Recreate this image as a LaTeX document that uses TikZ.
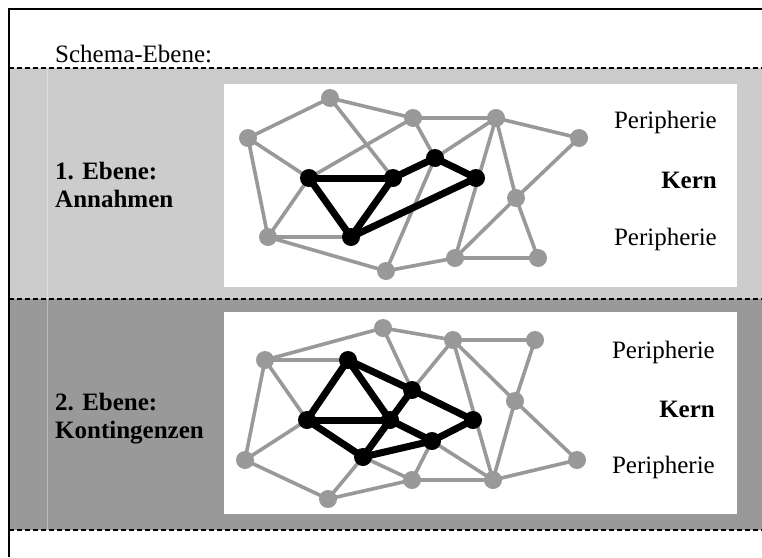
\documentclass[tikz,border=0pt]{standalone}
\usepackage{fontspec}
\setmainfont{Liberation Serif}
\usetikzlibrary{positioning}
\definecolor{bandlight}{gray}{0.8}
\definecolor{banddark}{gray}{0.6}
\definecolor{netgray}{gray}{0.6}

\tikzset{
  pnode/.style={circle,fill=netgray,minimum size=18pt,inner sep=0pt},
  knode/.style={circle,fill=black,minimum size=18pt,inner sep=0pt},
  pedge/.style={netgray,line width=3.6pt},
  kedge/.style={black,line width=7pt},
  sepline/.style={line width=2pt,dash pattern=on 5pt off 3pt},
  lbl/.style={font=\fontsize{25}{28}\selectfont,inner sep=0pt},
  blbl/.style={lbl,font=\fontsize{25}{28}\selectfont\bfseries},
}

\begin{document}
\begin{tikzpicture}[x=1pt,y=-1pt]
\useasboundingbox (0,0) rectangle (762,557);
% ---------- bands
\fill[bandlight] (9,68) rectangle (762,299);
\fill[banddark] (9,299) rectangle (762,530);
\draw[white,opacity=0.35,line width=1pt] (47,69)--(47,530);
\fill[white] (224,84) rectangle (737,287);
\fill[white] (224,312) rectangle (737,514);
\draw[line width=2pt] (8,9)--(762,9);
\draw[line width=1.3pt] (9,8)--(9,557);
\foreach \y in {68,299,530}{
  \draw[sepline] (9,\y)--(762,\y);}
\node[lbl,anchor=base west] (schema) at (55,62){Schema-Ebene:};

% ---------- 1. Ebene
\begin{scope}
\node[blbl,align=left,anchor=base west] (annahmen) at (55,207){1. Ebene:\\Annahmen};
\node[lbl,anchor=base east] (anper1) at (717,128){Peripherie};
\node[blbl,anchor=base east] (ankern) at (717,188){Kern};
\node[lbl,anchor=base east] (anper2) at (717,245){Peripherie};
\foreach \n/\x/\y in {1/248/138,2/330/98,3/413/118,4/496/118,5/579/138,
  6/516/198,7/538/258,8/455/258,9/386/271,10/268/237}{
  \coordinate (ap\n) at (\x,\y);}
\foreach \n/\x/\y in {1/309/178,2/393/178,3/435/158,4/476/178,5/351/237}{
  \coordinate (ak\n) at (\x,\y);}
\foreach \a/\b in {ap1/ap2,ap2/ap3,ap3/ap4,ap4/ap5,ap1/ak1,ap1/ap10,ap2/ak2,
  ap3/ak1,ap3/ak3,ap4/ak3,ap4/ap8,ap4/ap6,ap5/ap6,ap6/ap8,ap6/ap7,ap8/ap7,
  ap8/ap9,ap9/ap10,ap10/ak5,ap10/ak1,ak3/ap9}{
  \draw[pedge] (\a)--(\b);}
\foreach \a/\b in {ak1/ak2,ak2/ak3,ak3/ak4,ak4/ak5,ak5/ak1,ak5/ak2}{
  \draw[kedge] (\a)--(\b);}
\foreach \n in {1,...,10}{\node[pnode] (apdot\n) at (ap\n){};}
\foreach \n in {1,...,5}{\node[knode] (akdot\n) at (ak\n){};}
\end{scope}

% ---------- 2. Ebene
\begin{scope}
\node[blbl,align=left,anchor=base west] (kontingenzen) at (55,438){2. Ebene:\\Kontingenzen};
\node[lbl,anchor=base east] (koper1) at (715,358){Peripherie};
\node[blbl,anchor=base east] (kokern) at (715,417){Kern};
\node[lbl,anchor=base east] (koper2) at (715,473){Peripherie};
\foreach \n/\x/\y in {1/265/360,2/383/328,3/453/340,4/535/340,5/515/401,
  6/577/460,7/493/480,8/412/480,9/328/499,10/245/460}{
  \coordinate (kp\n) at (\x,\y);}
\foreach \n/\x/\y in {1/348/360,2/412/390,3/473/420,4/390/420,5/307/420,
  6/363/457,7/432/441}{
  \coordinate (kk\n) at (\x,\y);}
\foreach \a/\b in {kp1/kp2,kp1/kk1,kp1/kp10,kp1/kk5,kp2/kp3,kp2/kk2,kp3/kp4,
  kp3/kk2,kp3/kp5,kp3/kp7,kp4/kp5,kp5/kp7,kp5/kp6,kp6/kp7,kp7/kp8,kp7/kk7,
  kp8/kk6,kp8/kk7,kp8/kp9,kp9/kk6,kp9/kp10,kp10/kk5}{
  \draw[pedge] (\a)--(\b);}
\foreach \a/\b in {kk1/kk5,kk1/kk4,kk1/kk2,kk2/kk3,kk2/kk4,kk5/kk4,kk5/kk6,
  kk6/kk4,kk4/kk7,kk6/kk7,kk7/kk3}{
  \draw[kedge] (\a)--(\b);}
\foreach \n in {1,...,10}{\node[pnode] (kpdot\n) at (kp\n){};}
\foreach \n in {1,...,7}{\node[knode] (kkdot\n) at (kk\n){};}
\end{scope}
\end{tikzpicture}
\end{document}
